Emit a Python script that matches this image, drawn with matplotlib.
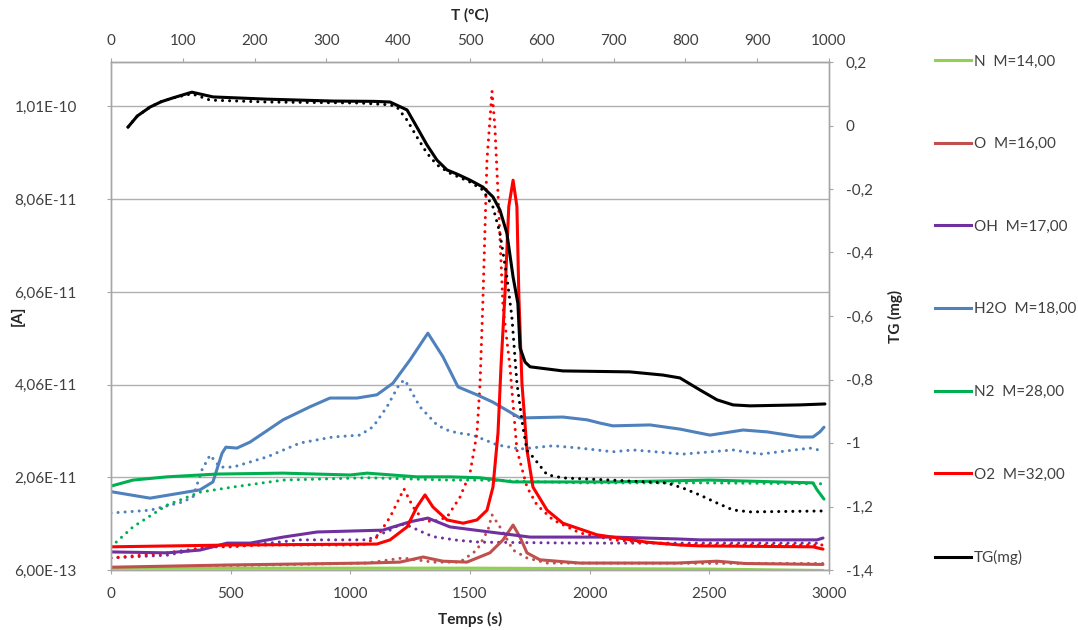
import numpy as np
import matplotlib
matplotlib.use("Agg")
import matplotlib.pyplot as plt
from matplotlib.lines import Line2D
from matplotlib.ticker import FixedLocator, FuncFormatter, MultipleLocator

plt.rcParams['font.family'] = ['Lato', 'DejaVu Sans']

# ---------------- data (ion currents in 1e-11 A, TG in mg, time in s) -------------
scale_A = 1e-11

h2o_t = [0, 163, 372, 426, 464, 480, 526, 581, 719, 831, 915, 1028, 1111, 1178, 1249, 1324, 1387,
         1450, 1529, 1596, 1709, 1888, 1989, 2043, 2097, 2252, 2377, 2503, 2641, 2741, 2879, 2933, 2962, 2979]
h2o_v = [1.75, 1.61, 1.79, 1.96, 2.58, 2.71, 2.69, 2.82, 3.30, 3.58, 3.77, 3.77, 3.84, 4.09, 4.59, 5.17, 4.66,
         4.01, 3.84, 3.68, 3.34, 3.36, 3.30, 3.23, 3.17, 3.19, 3.10, 2.97, 3.08, 3.04, 2.93, 2.93, 3.04, 3.14]

h2o_d_t = [0, 163, 301, 343, 380, 414, 455, 510, 652, 790, 928, 1040, 1095, 1153, 1207, 1228, 1291, 1362,
           1404, 1446, 1512, 1613, 1709, 1847, 1959, 2097, 2181, 2390, 2599, 2712, 2920, 2975]
h2o_d_v = [1.29, 1.35, 1.53, 1.64, 2.22, 2.54, 2.28, 2.28, 2.50, 2.80, 2.93, 2.97, 3.15, 3.58, 4.09, 4.16, 3.58, 3.19,
           3.08, 3.02, 2.97, 2.76, 2.67, 2.74, 2.69, 2.61, 2.65, 2.56, 2.65, 2.56, 2.69, 2.63]

n2_t = [0, 92, 234, 443, 719, 999, 1070, 1278, 1416, 1542, 1680, 2097, 2503, 2933, 2950, 2979]
n2_v = [1.87, 2.00, 2.07, 2.13, 2.15, 2.11, 2.15, 2.07, 2.07, 2.05, 1.96, 1.96, 2.00, 1.94, 1.79, 1.59]

n2_d_t = [0, 92, 234, 372, 510, 719, 1070, 1416, 1542, 1959, 2461, 2979]
n2_d_v = [0.56, 0.99, 1.46, 1.74, 1.85, 2.00, 2.05, 2.00, 2.00, 1.94, 1.94, 1.92]

oh_t = [0, 234, 372, 426, 485, 581, 719, 861, 999, 1136, 1249, 1324, 1416, 1613, 1751, 2097, 2365, 2461, 2950, 2975]
oh_v = [0.45, 0.43, 0.49, 0.56, 0.64, 0.64, 0.77, 0.88, 0.90, 0.92, 1.10, 1.18, 0.99, 0.86, 0.77, 0.77, 0.73, 0.71, 0.71, 0.75]

oh_d_t = [0, 234, 414, 510, 790, 1070, 1166, 1210, 1250, 1300, 1345, 1450, 1542, 1959, 2975]
oh_d_v = [0.32, 0.38, 0.56, 0.56, 0.71, 0.71, 0.92, 1.05, 1.00, 0.88, 0.78, 0.70, 0.66, 0.64, 0.64]

o2_t = [0, 510, 1111, 1166, 1237, 1278, 1312, 1345, 1404, 1471, 1529, 1571, 1596, 1617, 1630, 1646, 1662,
        1680, 1696, 1704, 1717, 1738, 1763, 1822, 1888, 2030, 2239, 2377, 2461, 2933, 2975]
o2_v = [0.56, 0.60, 0.62, 0.71, 0.99, 1.42, 1.68, 1.42, 1.14, 1.07, 1.14, 1.35, 1.85, 3.02, 4.50, 6.00, 7.90,
        8.47, 7.90, 6.00, 4.09, 2.65, 1.85, 1.35, 1.07, 0.82, 0.66, 0.60, 0.58, 0.56, 0.51]

o2_d_t = [0, 234, 414, 652, 1053, 1111, 1166, 1224, 1262, 1304, 1345, 1404, 1458, 1500, 1529, 1542, 1554,
          1571, 1592, 1604, 1617, 1638, 1667, 1696, 1738, 1780, 1847, 1959, 2097, 2377, 2975]
o2_d_v = [0.32, 0.43, 0.56, 0.60, 0.60, 0.77, 1.20, 1.81, 1.42, 1.14, 1.10, 1.20, 1.63, 2.15, 3.00, 4.09, 5.88,
          8.91, 10.39, 9.62, 8.19, 5.73, 4.44, 2.65, 1.85, 1.46, 1.14, 0.86, 0.71, 0.60, 0.60]

o_t = [0, 510, 1070, 1207, 1304, 1387, 1487, 1583, 1638, 1680, 1709, 1738, 1792, 1959, 2365, 2532, 2650, 2975]
o_v = [0.12, 0.17, 0.21, 0.23, 0.34, 0.25, 0.23, 0.43, 0.71, 1.03, 0.77, 0.43, 0.28, 0.21, 0.21, 0.25, 0.20, 0.18]

o_d_t = [0, 1070, 1220, 1345, 1458, 1529, 1575, 1592, 1625, 1680, 1738, 1822, 2975]
o_d_v = [0.10, 0.21, 0.32, 0.23, 0.23, 0.49, 0.92, 1.25, 0.99, 0.49, 0.32, 0.21, 0.20]

n_t = [0, 1500, 2500, 2975]
n_v = [0.10, 0.10, 0.08, 0.05]

tg_t = [71, 110, 163, 210, 259, 338, 426, 652, 928, 1100, 1166, 1237, 1278, 1320, 1362, 1404, 1446, 1500, 1554,
        1596, 1625, 1654, 1680, 1700, 1709, 1730, 1751, 1888, 2168, 2306, 2377, 2461, 2532, 2599, 2670, 2879, 2983]
tg_v = [-0.005, 0.030, 0.058, 0.075, 0.087, 0.105, 0.090, 0.083, 0.077, 0.076, 0.074, 0.049, -0.005, -0.061,
        -0.109, -0.140, -0.153, -0.172, -0.194, -0.225, -0.266, -0.339, -0.477, -0.560, -0.700, -0.745, -0.760,
        -0.773, -0.776, -0.786, -0.795, -0.833, -0.864, -0.880, -0.883, -0.880, -0.877]

tg_d_t = [71, 110, 163, 210, 259, 338, 414, 652, 1040, 1166, 1195, 1237, 1278, 1320, 1362, 1416, 1500, 1554, 1596,
          1625, 1654, 1675, 1696, 1721, 1738, 1763, 1822, 1888, 2097, 2323, 2390, 2461, 2532, 2599, 2670, 2983]
tg_d_v = [-0.005, 0.030, 0.058, 0.075, 0.087, 0.100, 0.080, 0.074, 0.071, 0.065, 0.058, 0.017, -0.036, -0.087,
          -0.124, -0.150, -0.178, -0.203, -0.257, -0.339, -0.477, -0.603, -0.811, -0.950, -1.023, -1.044, -1.100,
          -1.110, -1.117, -1.126, -1.142, -1.164, -1.189, -1.211, -1.217, -1.214]

labels = ["N  M=14,00", "O  M=16,00", "OH  M=17,00", "H2O  M=18,00", "N2  M=28,00", "O2  M=32,00", "TG(mg)"]
colors = ["#92D050", "#C0504D", "#7030A0", "#4F81BD", "#00B050", "#FF0000", "#000000"]

# ---------------- figure ----------------
W, H = 1078, 630
fig = plt.figure(figsize=(W / 100, H / 100), dpi=100)
x0, x1, y0, y1 = 111, 829, 62, 570
ax = fig.add_axes([x0 / W, 1 - y1 / H, (x1 - x0) / W, (y1 - y0) / H])
ax2 = ax.twinx()

lw = 2.2
dots = (0, (0.01, 2.3))

def solid(a, t, v, c, s=1.0):
    a.plot(t, np.array(v) * s, color=c, lw=lw, solid_capstyle='round', solid_joinstyle='round')

def dotted(a, t, v, c, s=1.0):
    a.plot(t, np.array(v) * s, color=c, lw=lw, linestyle=dots, dash_capstyle='round')

# dotted (second run)
dotted(ax, o_d_t, o_d_v, colors[1], scale_A)
dotted(ax, oh_d_t, oh_d_v, colors[2], scale_A)
dotted(ax, h2o_d_t, h2o_d_v, colors[3], scale_A)
dotted(ax, n2_d_t, n2_d_v, colors[4], scale_A)
dotted(ax, o2_d_t, o2_d_v, colors[5], scale_A)
# solid (first run)
solid(ax, n_t, n_v, colors[0], scale_A)
solid(ax, o_t, o_v, colors[1], scale_A)
solid(ax, oh_t, oh_v, colors[2], scale_A)
solid(ax, h2o_t, h2o_v, colors[3], scale_A)
solid(ax, n2_t, n2_v, colors[4], scale_A)
solid(ax, o2_t, o2_v, colors[5], scale_A)

dotted(ax2, tg_d_t, tg_d_v, colors[6])
solid(ax2, tg_t, tg_v, colors[6])

# ---------------- axes ----------------
ymin = 6e-13
step = 2e-11
ax.set_xlim(0, 3000)
ax.set_ylim(ymin, ymin + 5.48 * step)
yt = [ymin + k * step for k in range(6)]
ax.yaxis.set_major_locator(FixedLocator(yt))
ax.yaxis.set_major_formatter(FuncFormatter(lambda v, p: f"{v:.2E}".replace('.', ',')))
ax.xaxis.set_major_locator(MultipleLocator(500))

ax2.set_ylim(-1.4, 0.2)
ax2.yaxis.set_major_locator(MultipleLocator(0.2))
def tgfmt(v, p):
    s = f"{v:.1f}".rstrip('0').rstrip('.')
    if s in ("-0", ""):
        s = "0"
    return s.replace('.', ',')
ax2.yaxis.set_major_formatter(FuncFormatter(tgfmt))

sec = ax.secondary_xaxis('top', functions=(lambda t: np.asarray(t) / 3.0, lambda T: np.asarray(T) * 3.0))
sec.xaxis.set_major_locator(MultipleLocator(100))

gray = '#A6A6A6'
for a in (ax, ax2):
    for sp in a.spines.values():
        sp.set_color(gray)
        sp.set_linewidth(1.0)
for sp in sec.spines.values():
    sp.set_color(gray)

ax.grid(axis='y', color='#B0B0B0', lw=1.0)
ax.set_axisbelow(True)

fs = 11
tc = '#404040'
ax.tick_params(axis='y', colors=gray, labelcolor=tc, length=3, labelsize=fs, pad=21.5)
ax.tick_params(axis='x', colors=gray, labelcolor=tc, length=3, labelsize=fs, pad=9)
ax2.tick_params(axis='y', colors=gray, labelcolor=tc, length=3, labelsize=fs, pad=9)
sec.tick_params(axis='x', colors=gray, labelcolor=tc, length=3, labelsize=fs, pad=7)

fig.text(470 / W, 1 - 15 / H, "T (°C)", ha='center', va='center', fontsize=fs, fontweight='bold', color='#262626')
fig.text(470 / W, 1 - 619 / H, "Temps (s)", ha='center', va='center', fontsize=fs, fontweight='bold', color='#262626')
fig.text(18 / W, 1 - 316 / H, "[A]", ha='center', va='center', rotation=90, fontsize=fs, fontweight='bold', color='#262626')
fig.text(895 / W, 1 - 316 / H, "TG (mg)", ha='center', va='center', rotation=90, fontsize=fs, fontweight='bold', color='#262626')

handles = [Line2D([0], [0], color=c, lw=lw) for c in colors]
fig.legend(handles, labels, loc='upper left', bbox_to_anchor=(935 / W, 1 - 54.5 / H), frameon=False,
           fontsize=fs, handlelength=2.35, handletextpad=0.2, labelspacing=4.49, borderpad=0, borderaxespad=0,
           labelcolor=tc)

fig.savefig("out.png", dpi=100)
